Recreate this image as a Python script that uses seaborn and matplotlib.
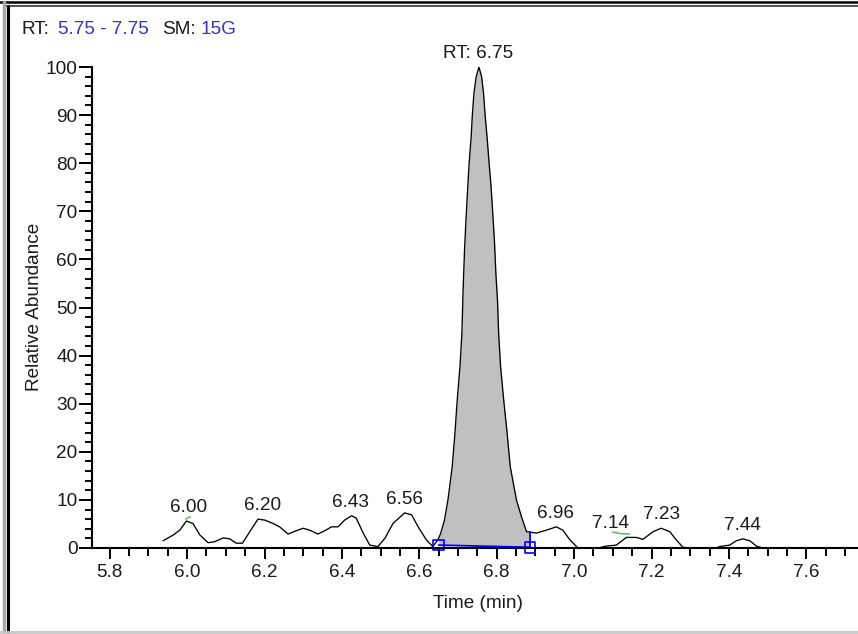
import numpy as np
import matplotlib
matplotlib.use("Agg")
import matplotlib.pyplot as plt
import seaborn as sns
from matplotlib.ticker import MultipleLocator, FormatStrFormatter

# Chromatogram trace (time in min, relative abundance)
trace_time = [5.938, 5.964, 5.981, 5.998, 6.015, 6.033, 6.054, 6.071, 6.093, 6.110,
              6.127, 6.143, 6.162, 6.183, 6.201, 6.222, 6.239, 6.261, 6.282, 6.300,
              6.317, 6.338, 6.356, 6.373, 6.390, 6.407, 6.425, 6.437, 6.455, 6.472,
              6.493, 6.511, 6.532, 6.562, 6.580, 6.597, 6.618, 6.635,
              6.648, 6.655, 6.665, 6.674, 6.685, 6.692, 6.698, 6.705, 6.710, 6.713,
              6.717, 6.721, 6.725, 6.729, 6.734, 6.737, 6.741, 6.747, 6.754, 6.761,
              6.766, 6.770, 6.775, 6.780, 6.785, 6.789, 6.794, 6.798, 6.802, 6.805,
              6.810, 6.818, 6.827, 6.835, 6.851, 6.864, 6.877,
              6.903, 6.928, 6.954, 6.971, 6.989, 7.010, 7.062, 7.083, 7.109, 7.135,
              7.161, 7.178, 7.204, 7.225, 7.247, 7.264, 7.281, 7.299, 7.368, 7.376,
              7.402, 7.419, 7.436, 7.454, 7.471, 7.488, 7.505]
trace_abund = [1.5, 2.7, 3.7, 5.6, 5.1, 2.7, 1.1, 1.3, 2.1, 1.9,
               1.0, 1.0, 3.4, 6.0, 5.8, 5.1, 4.4, 2.9, 3.6, 4.1,
               3.7, 2.9, 3.6, 4.4, 4.4, 5.8, 6.7, 6.2, 3.1, 0.6,
               0.3, 2.0, 5.1, 7.3, 6.9, 4.4, 1.7, 0.3,
               1.7, 3.0, 5.8, 10.0, 16.9, 23.8, 30.8, 37.7, 44.6, 53.3,
               62.3, 68.9, 74.8, 80.3, 85.5, 90.0, 94.5, 98.0, 100.0, 98.0,
               94.5, 90.0, 85.5, 80.3, 75.5, 70.6, 64.0, 56.8, 51.6, 44.6,
               37.7, 30.8, 23.8, 16.9, 10.0, 6.5, 3.4,
               3.1, 3.7, 4.4, 3.7, 1.7, 0.0, 0.0, 0.4, 0.6, 2.2,
               2.2, 1.8, 3.4, 4.1, 3.4, 1.7, 0.15, 0.0, 0.0, 0.3,
               0.6, 1.5, 1.9, 1.5, 0.4, 0.0, 0.0]

# labelled peaks; label_time is where each label is centred (7.14 is pushed left)
peak_rt = [6.00, 6.20, 6.43, 6.56, 6.75, 6.96, 7.14, 7.23, 7.44]
peak_labels = ["6.00", "6.20", "6.43", "6.56", "RT: 6.75", "6.96", "7.14", "7.23", "7.44"]
label_time = [6.005, 6.194, 6.422, 6.561, 6.751, 6.952, 7.095, 7.226, 7.435]

# integration of the main peak: baseline start / end
base_time = [6.650, 6.886]
base_abund = [0.6, 0.15]

# small green detection marks
green_time = [[5.996, 6.008], [7.099, 7.120, 7.144]]
green_abund = [[6.0, 6.5], [3.3, 3.0, 2.9]]

x_ticks = [5.8, 6.0, 6.2, 6.4, 6.6, 6.8, 7.0, 7.2, 7.4, 7.6]
y_ticks = [0, 10, 20, 30, 40, 50, 60, 70, 80, 90, 100]

sns.set_style("ticks")
plt.rcParams['font.family'] = ['Liberation Sans', 'DejaVu Sans']

W, H = 858, 634
fig = plt.figure(figsize=(W / 100, H / 100), dpi=100)
fig.patch.set_facecolor("white")

# axes placed in pixel terms of the original screenshot
x0, x1 = 5.755, 7.75
px_per_min = 387.0
ax = fig.add_axes([92.3 / W, (H - 548) / H, (x1 - x0) * px_per_min / W, (548 - 67) / H])
ax.set_facecolor("white")

t = np.array(trace_time)
a = np.array(trace_abund)

sns.lineplot(x=t, y=a, ax=ax, sort=False, estimator=None, color="black",
             linewidth=0.95, zorder=3)

# shaded main peak between curve and integration baseline
mask = (t >= base_time[0] - 0.003) & (t <= base_time[1])
tt = np.concatenate([[base_time[0]], t[mask], [base_time[1]]])
aa = np.concatenate([[np.interp(base_time[0], t, a)], a[mask], [np.interp(base_time[1], t, a)]])
bb = np.interp(tt, base_time, base_abund)
ax.fill_between(tt, aa, bb, color="#c0c0c0", linewidth=0, zorder=2)

# baseline + end markers
ax.plot(base_time, base_abund, color="#0000ff", linewidth=1.3, zorder=4)
ax.plot([base_time[1], base_time[1]], [base_abund[1], np.interp(base_time[1], t, a)],
        color="#0000ff", linewidth=1.3, zorder=4)
ax.scatter(base_time, base_abund, marker="s", s=60, facecolors="none",
           edgecolors="#0000ff", linewidths=1.2, zorder=5, clip_on=False)

for gt, ga in zip(green_time, green_abund):
    ax.plot(gt, ga, color="#5cb85c", linewidth=1.1, zorder=4)

text_color = "#1a1a1a"
for rt, lt, lbl in zip(peak_rt, label_time, peak_labels):
    win = (t > rt - 0.025) & (t < rt + 0.025)
    top = a[win].max()
    ax.annotate(lbl, xy=(lt, top), xytext=(0, 9.7), textcoords="offset points",
                ha="center", va="center", fontsize=13.7, color=text_color,
                annotation_clip=False)

ax.set_xlim(x0, x1)
ax.set_ylim(0, 100)
ax.set_xticks(x_ticks)
ax.set_yticks(y_ticks)
ax.xaxis.set_major_formatter(FormatStrFormatter("%.1f"))
ax.xaxis.set_minor_locator(MultipleLocator(0.05))
ax.yaxis.set_minor_locator(MultipleLocator(2))

for side in ["top", "right"]:
    ax.spines[side].set_visible(False)
for side in ["left", "bottom"]:
    ax.spines[side].set_linewidth(1.5)
    ax.spines[side].set_color("black")
    ax.spines[side].set_zorder(6)

ax.tick_params(axis="x", which="major", direction="out", length=8.2, width=1.4,
               pad=3.0, labelsize=13.7, labelcolor=text_color, color="black")
ax.tick_params(axis="x", which="minor", direction="out", length=5.8, width=1.4, color="black")
ax.tick_params(axis="y", which="major", direction="out", length=9.5, width=1.4,
               pad=1.0, labelsize=13.7, labelcolor=text_color, color="black")
ax.tick_params(axis="y", which="minor", direction="out", length=5.0, width=1.4, color="black")
ax.grid(False)

fig.text(478 / W, 1 - 603 / H, "Time (min)", ha="center", va="center",
         fontsize=13.7, color=text_color)
fig.text(35 / W, 1 - 307 / H, "Relative Abundance", ha="center", va="center",
         rotation=90, fontsize=13.7, color=text_color)

# header line
blue = "#3535c0"
hy = 1 - 30 / H
fig.text(21.7 / W, hy, "RT:", ha="left", va="center", fontsize=13.7, color=text_color)
fig.text(58.3 / W, hy, "5.75 - 7.75", ha="left", va="center", fontsize=13.7, color=blue)
fig.text(162.3 / W, hy, "SM:", ha="left", va="center", fontsize=13.7, color=text_color)
fig.text(200 / W, hy, "15G", ha="left", va="center", fontsize=13.7, color=blue)

# window frame
def frame_line(xs, ys, color, lw):
    fig.add_artist(plt.Line2D([x / W for x in xs], [1 - y / H for y in ys],
                              color=color, linewidth=lw, transform=fig.transFigure))

frame_line([0, W], [2, 2], "black", 1.8)
frame_line([6, W], [6, 6], "#505050", 1.4)
frame_line([3.5, 3.5], [2, H], "#a8a8a8", 2.5)
frame_line([8, 8], [6, H], "black", 2.2)
frame_line([0, W], [632, 632], "#c8c8c8", 2.0)

fig.savefig("out.png", dpi=100)
